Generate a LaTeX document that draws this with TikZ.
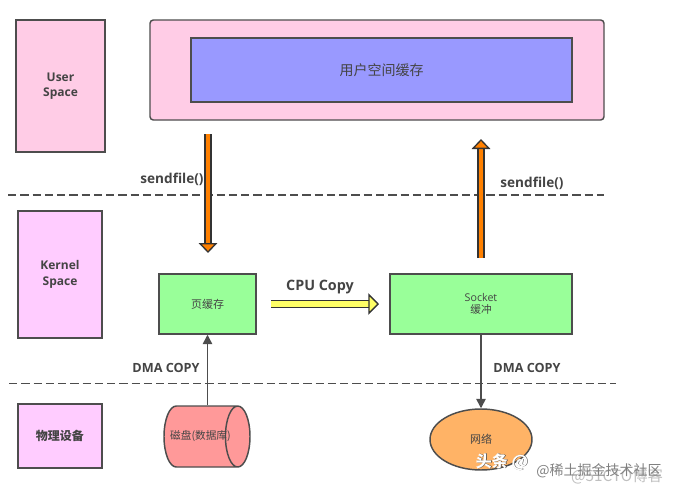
\documentclass[tikz,border=0pt]{standalone}
\usepackage{fontspec}
\setmainfont{Open Sans}
\newfontfamily\cjk{Noto Sans CJK SC}
\usetikzlibrary{arrows.meta,shapes.geometric}
\definecolor{ln}{HTML}{4D4D4D}
\definecolor{tx}{HTML}{444444}
\begin{document}
\begin{tikzpicture}[x=0.75pt, y=-0.75pt,
  bx/.style={rectangle, draw=ln, line width=1.1pt, inner sep=0pt, text=tx, align=center, font=\bfseries\fontsize{9}{11.5}\selectfont},
  bU/.style={bx, fill=pink1},
  bK/.style={bx, fill=lilac1},
  bG/.style={bx, fill=green1, font=\fontsize{8}{10}\selectfont, minimum width=72.75pt, minimum height=45pt},
  lb/.style={text=tx, inner sep=0pt, font=\bfseries\fontsize{9.5}{11}\selectfont},
  dsh/.style={draw=ln, line width=1.1pt, dash pattern=on 6.2pt off 3pt},
  cp/.style={draw=ln, line width=1.1pt, -{Triangle[length=7pt, width=7pt]}},
  fat/.style={draw=black!80, line width=1pt, double distance=#1}]
\definecolor{pink1}{HTML}{FFCCE6}
\definecolor{lilac1}{HTML}{FFCCFF}
\definecolor{green1}{HTML}{99FF99}
\definecolor{blue1}{HTML}{9999FF}
\definecolor{red1}{HTML}{FF9999}
\definecolor{orange1}{HTML}{FFB366}
\definecolor{orange2}{HTML}{FF8000}
\definecolor{yellow1}{HTML}{FFFF66}
\useasboundingbox (0,0) rectangle (675,493);
% dashed separators
\coordinate (d1a) at (8,195); \coordinate (d1b) at (604,195);
\coordinate (d2a) at (9,383.5); \coordinate (d2b) at (616,383.5);
\draw[dsh] (d1a)--(d1b);
\draw[dsh] (d2a)--(d2b);
% left column
\node[bU, minimum width=66.75pt, minimum height=99pt] (usr) at (60.5,86) {User\\Space};
\node[bK, minimum width=63pt, minimum height=95.25pt] (kern) at (60,274.5) {Kernel\\Space};
\node[bK, minimum width=63pt, minimum height=48pt, font=\cjk\bfseries\fontsize{9}{11}\selectfont] (phys) at (60,436) {物理设备};
% user buffer
\node[bU, rounded corners=2.5pt, minimum width=340.5pt, minimum height=75pt] (outer) at (377,70) {};
\node[bx, fill=blue1, minimum width=285.75pt, minimum height=48pt, font=\cjk\fontsize{10.5}{12}\selectfont] (ubuf) at (381.5,70) {用户空间缓存};
% kernel buffers
\node[bG, font=\cjk\fontsize{8.25}{10}\selectfont] (page) at (207.5,304) {页缓存};
\node[bG, minimum width=136.5pt] (sock) at (481,304) {Socket\\[-1pt]{\cjk 缓冲}};
% devices
\node[cylinder, shape aspect=2.2, draw=ln, line width=1.1pt, fill=red1, anchor=shape center, inner sep=0pt, text=tx,
  minimum width=45.75pt, minimum height=64.5pt, font=\cjk\fontsize{8}{10}\selectfont] (disk) at (207,436.5) {\makebox[20pt][c]{磁盘(数据库)}};
\node[ellipse, draw=ln, line width=1.1pt, fill=orange1, inner sep=0pt, text=tx,
  minimum width=76.5pt, minimum height=45.75pt, font=\cjk\fontsize{8.25}{10}\selectfont] (net) at (481,439.5) {网络};
% big arrows
\coordinate (o1a) at (208,134); \coordinate (o1b) at (208,253);
\coordinate (o2a) at (481,258); \coordinate (o2b) at (481,139);
\coordinate (y1a) at (271,304); \coordinate (y1b) at (379,304);
\draw[fat=3.6pt, double=orange2, -{Triangle[fill=orange2, length=7.5pt, width=14pt]}] (o1a)--(o1b);
\draw[fat=3.6pt, double=orange2, -{Triangle[fill=orange2, length=7.5pt, width=14pt]}] (o2a)--(o2b);
\draw[fat=4.2pt, double=yellow1, -{Triangle[fill=yellow1, length=8pt, width=16pt]}] (y1a)--(y1b);
% dma arrows
\draw[cp] (page.south |- disk.north)--(page.south);
\draw[cp] (sock.south)--(net.north);
% labels
\node[lb, font=\bfseries\fontsize{10.2}{11}\selectfont] (s1) at (172,179) {sendfile()};
\node[lb, font=\bfseries\fontsize{10.2}{11}\selectfont] (s2) at (532,183) {sendfile()};
\node[lb, font=\bfseries\fontsize{10.75}{11}\selectfont] (cpu) at (320,287) {CPU Copy};
\node[lb] (dm1) at (166,368) {DMA COPY};
\node[lb] (dm2) at (527,368) {DMA COPY};
% watermarks
\node[text=black!25, inner sep=0pt, font=\cjk\fontsize{11.5}{12}\selectfont] (wm3) at (617,476) {@51CTO博客};
\node[text=black!50, inner sep=0pt, font=\cjk\fontsize{10.5}{12}\selectfont] (wm2) at (599,471) {@稀土掘金技术社区};
\node[text=black!75, inner sep=0pt, font=\cjk\bfseries\fontsize{12}{14}\selectfont] (wm1s) at (502.7,462.7) {头条 @};
\node[text=white, inner sep=0pt, font=\cjk\bfseries\fontsize{12}{14}\selectfont] (wm1) at (502,462) {头条 @};
\end{tikzpicture}
\end{document}
